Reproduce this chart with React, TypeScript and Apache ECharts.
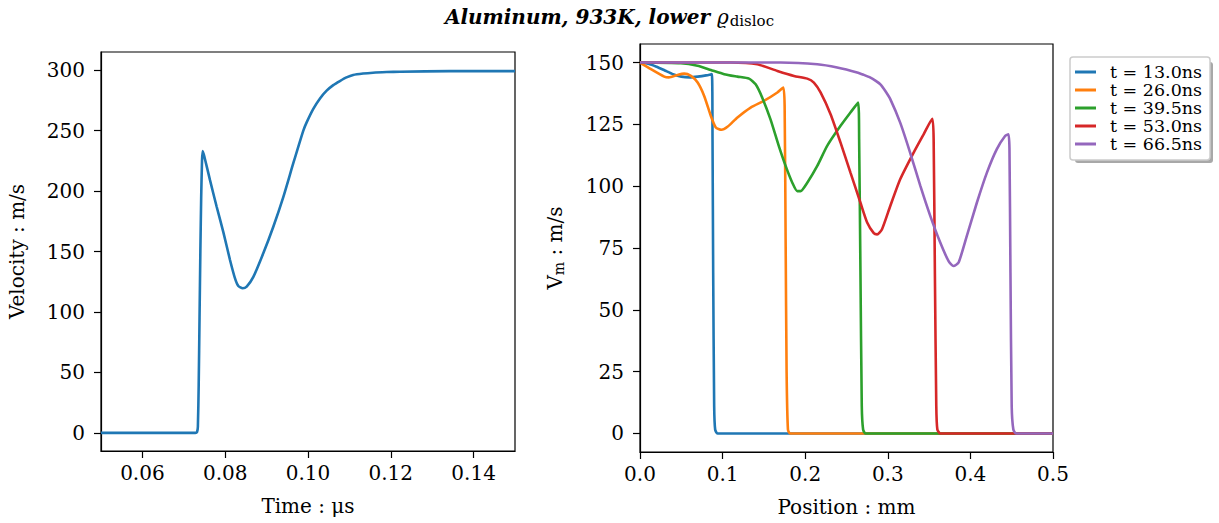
import React, { useEffect, useRef } from "react";
import * as echarts from "echarts";

// ---- Left panel: velocity history ----
const leftTime = [0.05, 0.0728, 0.0732, 0.0734, 0.0736, 0.0738, 0.074, 0.0742, 0.0744, 0.07456, 0.0750, 0.07633, 0.07794, 0.07955, 0.08116, 0.08237, 0.08317, 0.08422, 0.08519, 0.0868, 0.0892, 0.09162, 0.09403, 0.09645, 0.09887, 0.0997, 0.10128, 0.1029, 0.1045, 0.1061, 0.1077, 0.1093, 0.1109, 0.1133, 0.1157, 0.1190, 0.12222, 0.1343, 0.15];
const leftVel = [0, 0, 0.8, 5, 40, 95, 150, 195, 225, 233, 228, 209, 187, 166, 143, 127.8, 121.5, 119.6, 121, 129, 148.5, 170.5, 195, 223, 250, 257, 268, 276.6, 283, 287.6, 291, 294, 296, 297.2, 297.9, 298.4, 298.7, 299.2, 299.2];
const leftXTicks = [0.06, 0.08, 0.1, 0.12, 0.14];
const leftYTicks = [0, 50, 100, 150, 200, 250, 300];

// ---- Right panel: profiles ----
const seriesNames = ["t = 13.0ns", "t = 26.0ns", "t = 39.5ns", "t = 53.0ns", "t = 66.5ns"];
const pos13 = [0, 0.01, 0.02, 0.03, 0.04, 0.05, 0.06, 0.07, 0.08, 0.087, 0.0878, 0.0886, 0.0898, 0.091, 0.0938, 0.5];
const vel13 = [150, 149.5, 148.3, 146.8, 145.3, 144.3, 144, 144.3, 144.8, 145.3, 119, 65, 11, 1.6, 0, 0];
const pos26 = [0, 0.0133, 0.0294, 0.035, 0.0455, 0.0535, 0.0616, 0.0696, 0.0777, 0.0858, 0.0918, 0.0986, 0.1059, 0.118, 0.134, 0.15, 0.1663, 0.1735, 0.1751, 0.1763, 0.1775, 0.1791, 0.1816, 0.5];
const vel26 = [150, 147.3, 144.3, 144, 145, 145.5, 144.6, 142, 136.5, 128.4, 123.7, 122.8, 124, 127.8, 131.8, 134.5, 137.9, 139.9, 132.5, 78.5, 24.6, 1.6, 0, 0];
const pos39 = [0, 0.0495, 0.0696, 0.0858, 0.1019, 0.118, 0.132, 0.14, 0.148, 0.158, 0.168, 0.1763, 0.1844, 0.1904, 0.1944, 0.2025, 0.2146, 0.2266, 0.2428, 0.2548, 0.2641, 0.2653, 0.2669, 0.2685, 0.2701, 0.273, 0.5];
const vel39 = [150, 149.7, 148.7, 147, 145.3, 144.3, 143.5, 141.2, 135.8, 127, 116.3, 108.2, 101.4, 98, 98, 101.4, 108.2, 116.3, 124.4, 129.8, 133.8, 119, 65, 11, 1.6, 0, 0];
const pos53 = [0, 0.11, 0.142, 0.1663, 0.1864, 0.2025, 0.2105, 0.2186, 0.2307, 0.2428, 0.2548, 0.2669, 0.275, 0.283, 0.287, 0.293, 0.303, 0.315, 0.3313, 0.3434, 0.3539, 0.3555, 0.357, 0.3587, 0.36, 0.3635, 0.5];
const vel53 = [150, 150, 149.3, 146.6, 144.6, 143.5, 141.9, 137.9, 129.1, 117.6, 105.5, 93.3, 85.3, 81, 80.5, 82.6, 92, 102.8, 113.6, 121, 127.3, 119, 65, 11, 1.6, 0, 0];
const pos66 = [0, 0.17, 0.2146, 0.2387, 0.2629, 0.271, 0.279, 0.285, 0.291, 0.297, 0.303, 0.315, 0.327, 0.3394, 0.3514, 0.3635, 0.3736, 0.3796, 0.3857, 0.3957, 0.4078, 0.42, 0.432, 0.442, 0.4461, 0.4473, 0.4485, 0.45, 0.452, 0.4553, 0.5];
const vel66 = [150, 150, 149.3, 148, 146, 145, 143.9, 142.7, 141.2, 138.5, 135.2, 125.7, 113.6, 100.1, 88, 77.2, 69.7, 67.7, 69.1, 79.9, 93.3, 105.5, 115, 120.3, 121, 115, 65, 11, 1.6, 0, 0];
const rightYTicks = [0, 25, 50, 75, 100, 125, 150];
const colors = ["#1f77b4", "#ff7f0e", "#2ca02c", "#d62728", "#9467bd"];

const FONT = "DejaVu Serif";

const zip = (xs: number[], ys: number[]) => xs.map((x, i) => [x, ys[i]]);

export default function App() {
  const ref = useRef<HTMLDivElement>(null);
  useEffect(() => {
    if (!ref.current) return;
    const chart = echarts.init(ref.current, null, { renderer: "svg" });
    const rightX = [pos13, pos26, pos39, pos53, pos66];
    const rightY = [vel13, vel26, vel39, vel53, vel66];

    const axisCommon = {
      axisLine: { show: true, onZero: false, lineStyle: { color: "#000", width: 1.2 } },
      axisTick: { show: true, inside: false, length: 7, lineStyle: { color: "#000", width: 1.2 } },
      splitLine: { show: false },
      nameTextStyle: { fontFamily: FONT, fontSize: 20, color: "#000" },
    };
    const labelCommon = { fontFamily: FONT, fontSize: 20, color: "#000" };

    chart.setOption({
      animation: false,
      backgroundColor: "#fff",
      title: {
        text: "{b|Aluminum, 933K, lower }{r|ϱ}{s|disloc}",
        left: "center",
        top: 0,
        textStyle: {
          fontWeight: "normal",
          rich: {
            b: { fontFamily: FONT, fontSize: 20, fontWeight: "bold", fontStyle: "italic", color: "#000" },
            r: { fontFamily: FONT, fontSize: 20, fontWeight: "normal", fontStyle: "italic", color: "#000" },
            s: { fontFamily: FONT, fontSize: 15, fontWeight: "normal", fontStyle: "normal", color: "#000", padding: [8, 0, 0, 1] },
          },
        },
      },
      legend: {
        data: seriesNames,
        left: 1070,
        top: 57,
        orient: "vertical",
        icon: "rect",
        itemWidth: 21,
        itemHeight: 3,
        itemGap: 0,
        padding: [6, 8, 7, 5],
        backgroundColor: "#fff",
        borderColor: "#ccc",
        borderWidth: 1.5,
        borderRadius: 3,
        z: 10,
        textStyle: { fontFamily: FONT, fontSize: 17.5, color: "#000", lineHeight: 17.5, padding: [0, 0, 0, 9] },
      },
      graphic: [
        {
          type: "rect",
          left: 1075,
          top: 62,
          z: 0,
          shape: { width: 138, height: 101, r: 3 },
          style: { fill: "#a8a8a8" },
        },
      ],
      grid: [
        { left: 101, top: 52, width: 414, height: 399, show: true, borderColor: "#000", borderWidth: 1.2, backgroundColor: "transparent" },
        { left: 640, top: 44, width: 413, height: 408, show: true, borderColor: "#000", borderWidth: 1.2, backgroundColor: "transparent" },
      ],
      xAxis: [
        {
          ...axisCommon,
          type: "value",
          gridIndex: 0,
          min: 0.05,
          max: 0.15,
          name: "Time : μs",
          nameLocation: "middle",
          nameGap: 45,
          axisTick: { ...axisCommon.axisTick, customValues: leftXTicks },
          axisLabel: { ...labelCommon, margin: 12, customValues: leftXTicks, formatter: (v: number) => v.toFixed(2) },
        },
        {
          ...axisCommon,
          type: "value",
          gridIndex: 1,
          min: 0,
          max: 0.5,
          interval: 0.1,
          name: "Position : mm",
          nameLocation: "middle",
          nameGap: 45,
          axisLabel: { ...labelCommon, margin: 12, formatter: (v: number) => v.toFixed(1) },
        },
      ],
      yAxis: [
        {
          ...axisCommon,
          type: "value",
          gridIndex: 0,
          min: -15,
          max: 315,
          name: "Velocity : m/s",
          nameLocation: "middle",
          nameGap: 74,
          axisTick: { ...axisCommon.axisTick, customValues: leftYTicks },
          axisLabel: { ...labelCommon, margin: 16, customValues: leftYTicks },
        },
        {
          ...axisCommon,
          type: "value",
          gridIndex: 1,
          min: -7.5,
          max: 157.5,
          name: "{v|V}{m|m}{v| : m/s}",
          nameLocation: "middle",
          nameGap: 74,
          nameTextStyle: {
            fontFamily: FONT,
            fontSize: 20,
            color: "#000",
            rich: {
              v: { fontFamily: FONT, fontSize: 20, color: "#000" },
              m: { fontFamily: FONT, fontSize: 14, color: "#000", padding: [8, 0, 0, 0] },
            },
          },
          axisTick: { ...axisCommon.axisTick, customValues: rightYTicks },
          axisLabel: { ...labelCommon, margin: 16, customValues: rightYTicks },
        },
      ],
      series: [
        {
          name: "velocity",
          type: "line",
          xAxisIndex: 0,
          yAxisIndex: 0,
          data: zip(leftTime, leftVel),
          showSymbol: false,
          smooth: 0.2,
          lineStyle: { color: colors[0], width: 2.6 },
          itemStyle: { color: colors[0] },
        },
        ...seriesNames.map((n, i) => ({
          name: n,
          type: "line",
          xAxisIndex: 1,
          yAxisIndex: 1,
          data: zip(rightX[i], rightY[i]),
          showSymbol: false,
          smooth: 0.2,
          lineStyle: { color: colors[i], width: 2.6 },
          itemStyle: { color: colors[i] },
        })),
      ],
    });
    return () => chart.dispose();
  }, []);
  return <div ref={ref} style={{ position: "absolute", left: 0, top: 0, width: 1219, height: 523 }} />;
}
